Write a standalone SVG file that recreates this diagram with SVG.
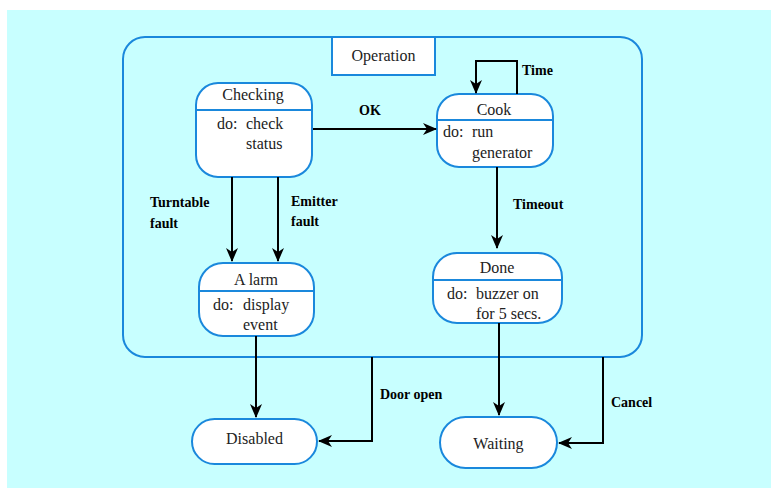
<svg xmlns="http://www.w3.org/2000/svg" width="771" height="488" viewBox="0 0 771 488">
  <style>
    .state { fill: #ffffff; stroke: #1a88dc; stroke-width: 2; }
    .divider { stroke: #1a88dc; stroke-width: 2; }
    .name { font-family: "Liberation Serif", "DejaVu Serif", "Times New Roman", serif; font-size: 16px; fill: #222222; }
    .label { font-family: "Liberation Serif", "DejaVu Serif", "Times New Roman", serif; font-size: 14px; font-weight: bold; fill: #000000; }
    .edge { fill: none; stroke: #000000; stroke-width: 2; marker-end: url(#arrow); }
  </style>
  <defs>
    <marker id="arrow" markerUnits="userSpaceOnUse" markerWidth="14" markerHeight="12" viewBox="0 0 14 12" refX="13" refY="6" orient="auto">
      <path d="M0,0 L14,6 L0,12 L4,6 z" fill="#000000"/>
    </marker>
  </defs>

  <!-- backdrop -->
  <rect x="7" y="10" width="764" height="478" fill="#c8ffff"/>

  <!-- Operation superstate -->
  <g id="operation">
    <rect x="123" y="37" width="519" height="320" rx="22" ry="22" fill="none" stroke="#1a88dc" stroke-width="2"/>
    <rect x="332" y="37" width="103" height="38" fill="#ffffff" stroke="#1a88dc" stroke-width="2"/>
    <text class="name" x="383.5" y="61" text-anchor="middle">Operation</text>
  </g>

  <g id="checking">
    <rect class="state" x="196" y="83" width="116" height="94" rx="22" ry="22"/>
    <line class="divider" x1="196" y1="110" x2="312" y2="110"/>
    <text class="name" x="253" y="100" text-anchor="middle">Checking</text>
    <text class="name" x="217" y="129">do:</text>
    <text class="name" x="246" y="129">check</text>
    <text class="name" x="246" y="149">status</text>
  </g>

  <g id="cook">
    <rect class="state" x="437" y="94" width="116" height="73" rx="22" ry="22"/>
    <line class="divider" x1="437" y1="120" x2="553" y2="120"/>
    <text class="name" x="494" y="115" text-anchor="middle">Cook</text>
    <text class="name" x="443" y="137">do:</text>
    <text class="name" x="472" y="137">run</text>
    <text class="name" x="472" y="158">generator</text>
  </g>

  <g id="alarm">
    <rect class="state" x="199" y="263" width="115" height="73" rx="24" ry="24"/>
    <line class="divider" x1="199" y1="291" x2="314" y2="291"/>
    <text class="name" x="256" y="285" text-anchor="middle">A larm</text>
    <text class="name" x="213" y="310">do:</text>
    <text class="name" x="243" y="310">display</text>
    <text class="name" x="243" y="330">event</text>
  </g>

  <g id="done">
    <rect class="state" x="433" y="253" width="129" height="70" rx="24" ry="24"/>
    <line class="divider" x1="433" y1="280" x2="562" y2="280"/>
    <text class="name" x="497" y="273" text-anchor="middle">Done</text>
    <text class="name" x="447" y="299">do:</text>
    <text class="name" x="476" y="299">buzzer on</text>
    <text class="name" x="476" y="319">for 5 secs.</text>
  </g>

  <g id="disabled">
    <rect class="state" x="192" y="419" width="125" height="45" rx="22.5" ry="22.5"/>
    <text class="name" x="254.5" y="444" text-anchor="middle">Disabled</text>
  </g>

  <g id="waiting">
    <rect class="state" x="440" y="417" width="117" height="51" rx="25.5" ry="25.5"/>
    <text class="name" x="498.5" y="449" text-anchor="middle">Waiting</text>
  </g>

  <!-- transitions -->
  <g id="connectors">
    <path class="edge" d="M313,129 L436,129"/>
    <path class="edge" d="M517,94 L517,61 L476,61 L476,93"/>
    <path class="edge" d="M497,167 L497,248"/>
    <path class="edge" d="M232,177 L232,261"/>
    <path class="edge" d="M278,177 L278,261"/>
    <path class="edge" d="M256,336 L256,417"/>
    <path class="edge" d="M499,323 L499,415"/>
    <path class="edge" d="M372,357 L372,441 L319,441"/>
    <path class="edge" d="M603,357 L603,443 L559,443"/>

    <text class="label" x="359" y="115">OK</text>
    <text class="label" x="522" y="75">Time</text>
    <text class="label" x="513" y="209">Timeout</text>
    <text class="label" x="150" y="207">Turntable</text>
    <text class="label" x="150" y="228">fault</text>
    <text class="label" x="291" y="206">Emitter</text>
    <text class="label" x="291" y="226">fault</text>
    <text class="label" x="380" y="399">Door open</text>
    <text class="label" x="611" y="407">Cancel</text>
  </g>
</svg>
